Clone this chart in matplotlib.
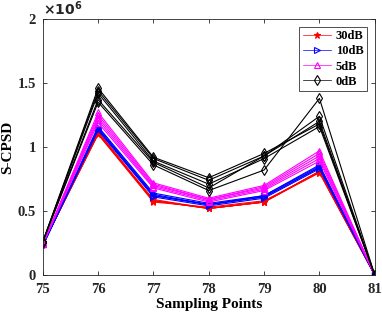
import numpy as np
import matplotlib
matplotlib.use('Agg')
import matplotlib.pyplot as plt

plt.rcParams['font.family'] = 'Liberation Serif'
plt.rcParams['font.weight'] = 'bold'

#-------- data (values in units of 1e6) --------#
x = [75, 76, 77, 78, 79, 80, 81]

s_30dB = [
    [0.24, 1.10, 0.58, 0.52, 0.57, 0.80, 0.0],
    [0.24, 1.11, 0.58, 0.52, 0.57, 0.81, 0.0],
    [0.24, 1.10, 0.57, 0.53, 0.58, 0.80, 0.0],
    [0.24, 1.11, 0.59, 0.52, 0.57, 0.81, 0.0],
    [0.24, 1.12, 0.58, 0.52, 0.57, 0.81, 0.0],
]
s_10dB = [
    [0.23, 1.13, 0.61, 0.54, 0.60, 0.83, 0.0],
    [0.23, 1.14, 0.62, 0.55, 0.61, 0.84, 0.0],
    [0.23, 1.15, 0.63, 0.55, 0.62, 0.85, 0.0],
    [0.23, 1.16, 0.64, 0.56, 0.62, 0.86, 0.0],
    [0.23, 1.14, 0.62, 0.55, 0.61, 0.84, 0.0],
]
s_5dB = [
    [0.24, 1.19, 0.68, 0.57, 0.66, 0.89, 0.0],
    [0.24, 1.21, 0.69, 0.58, 0.67, 0.91, 0.0],
    [0.24, 1.23, 0.70, 0.59, 0.68, 0.93, 0.0],
    [0.24, 1.25, 0.71, 0.59, 0.69, 0.95, 0.0],
    [0.24, 1.27, 0.72, 0.60, 0.70, 0.97, 0.0],
]
s_0dB = [
    [0.26, 1.46, 0.92, 0.76, 0.95, 1.18, 0.0],
    [0.26, 1.44, 0.91, 0.74, 0.93, 1.24, 0.0],
    [0.26, 1.42, 0.89, 0.71, 0.91, 1.16, 0.0],
    [0.26, 1.37, 0.88, 0.68, 0.93, 1.20, 0.0],
    [0.26, 1.35, 0.86, 0.66, 0.82, 1.38, 0.0],
]

groups = [
    ('30dB', s_30dB, 'red', '*', 'red'),
    ('10dB', s_10dB, 'blue', '>', 'none'),
    ('5dB', s_5dB, 'magenta', '^', 'none'),
    ('0dB', s_0dB, 'black', 'd', 'none'),
]

fig = plt.figure(figsize=(3.82, 3.17), dpi=100)
ax = fig.add_axes([0.112, 0.1325, 0.869, 0.8075])

for name, runs, c, m, fc in groups:
    for i, y in enumerate(runs):
        ax.plot(x, y, color=c, lw=0.8, marker=m, ms=5, mfc=fc, mec=c, mew=0.8,
                label=name if i == 0 else None)

ax.set_xlim(75, 81)
ax.set_ylim(0, 2)
ax.set_xticks(x)
ax.set_yticks([0, 0.5, 1, 1.5, 2])
ax.set_yticklabels(['0', '0.5', '1', '1.5', '2'])
ax.tick_params(direction='in', top=True, right=True, labelsize=10.5, length=3,
               width=0.6, colors='#262626')
ax.tick_params(axis='x', pad=6)
ax.tick_params(axis='y', pad=5)
for sp in ax.spines.values():
    sp.set_color('#262626')
    sp.set_linewidth(0.6)
ax.set_xlabel('Sampling Points', fontsize=11, fontweight='bold', labelpad=1)
ax.set_ylabel('S-CPSD', fontsize=11, fontweight='bold', labelpad=2)
ax.text(0.0, 1.005, r'$\times10^6$', transform=ax.transAxes, fontsize=10,
        ha='left', va='bottom', color='#262626')

leg = ax.legend(loc='upper right', fontsize=9, frameon=True, fancybox=False,
                borderaxespad=0.6, handlelength=2.2, labelspacing=0.25,
                borderpad=0.3, handletextpad=0.4)
leg.get_frame().set_edgecolor('black')
leg.get_frame().set_linewidth(0.6)
for ln in leg.get_lines():
    ln.set_linewidth(0.5)

fig.savefig('out.png', dpi=100)
